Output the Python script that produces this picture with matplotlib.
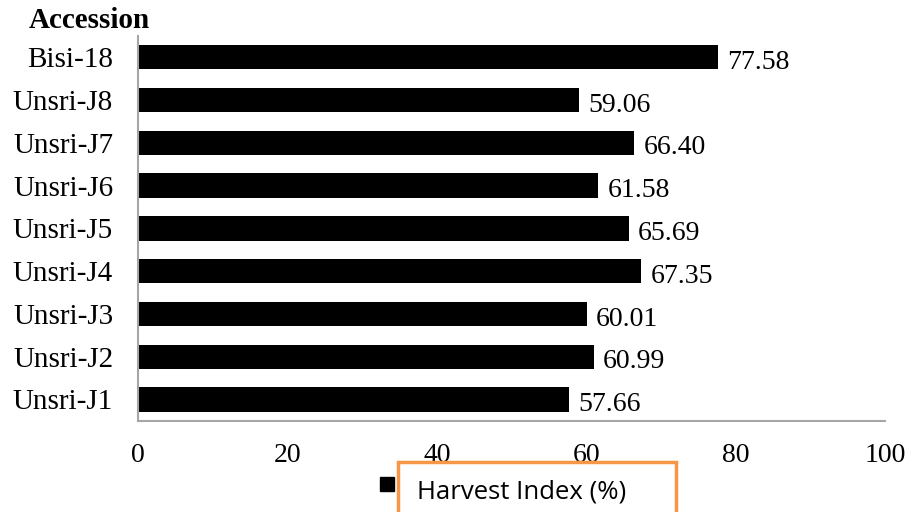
"""Harvest index by accession"""
import matplotlib.pyplot as plt
from matplotlib.patches import Rectangle

accessions = ["Unsri-J1", "Unsri-J2", "Unsri-J3", "Unsri-J4", "Unsri-J5",
              "Unsri-J6", "Unsri-J7", "Unsri-J8", "Bisi-18"]
harvest_index = [57.66, 60.99, 60.01, 67.35, 65.69, 61.58, 66.40, 59.06, 77.58]
x_ticks = [0, 20, 40, 60, 80, 100]

serif = ["Liberation Serif", "DejaVu Serif"]
fs = 20

fig = plt.figure(figsize=(9.09, 5.12), dpi=100)
ax = fig.add_axes([0.152, 0.178, 0.822, 0.752])

ax.barh(range(len(accessions)), harvest_index, height=0.57, color="black")
for i, v in enumerate(harvest_index):
    ax.text(v + 1.2, i - 0.12, f"{v:.2f}", va="center", ha="left",
            fontsize=fs, family=serif)

ax.set_xlim(0, 100)
ax.set_ylim(-0.5, len(accessions) - 0.5)
ax.set_yticks(range(len(accessions)))
ax.set_yticklabels(accessions, fontsize=21, family=serif)
ax.set_xticks(x_ticks)
ax.set_xticklabels([str(t) for t in x_ticks], fontsize=fs, family=serif)
ax.tick_params(length=0, pad=16, axis="x")
ax.tick_params(length=0, pad=18, axis="y")
for s in ["top", "right"]:
    ax.spines[s].set_visible(False)
for s in ["left", "bottom"]:
    ax.spines[s].set_color("#a6a6a6")
    ax.spines[s].set_linewidth(1.5)

fig.text(89 / 909, 0.934, "Accession", fontsize=21, fontweight="bold",
         family=serif, ha="center", va="bottom")

# legend: black marker + label in an orange box
fig.patches.append(Rectangle((380 / 909, 1 - 491 / 512), 14 / 909, 14 / 512,
                             transform=fig.transFigure, color="black"))
fig.patches.append(Rectangle((398 / 909, -0.02), 278 / 909, 0.118,
                             transform=fig.transFigure, fill=False,
                             edgecolor="#f79646", linewidth=2.5))
fig.text(417 / 909, 1 - 492 / 512, "Harvest Index (%)", fontsize=18.5,
         family=["Open Sans", "DejaVu Sans"], va="center", ha="left")

fig.savefig("out.png", dpi=100)
